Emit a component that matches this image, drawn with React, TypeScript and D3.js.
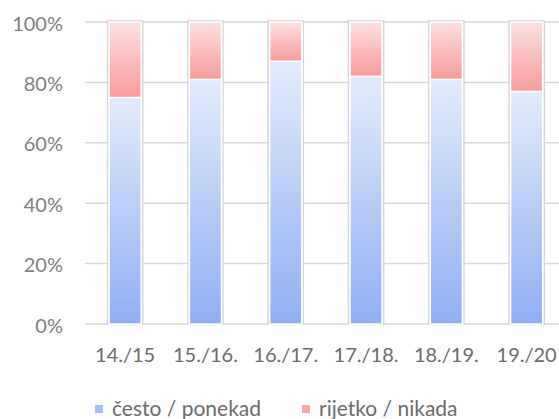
import { useEffect, useRef } from "react";
import * as d3 from "d3";

const seasons = ["14./15", "15./16.", "16./17.", "17./18.", "18./19.", "19./20"];
const often = [75, 81, 87, 82, 81, 77];
const rarely = [25, 19, 13, 18, 19, 23];
const yTicks = [0, 20, 40, 60, 80, 100];
const legendLabels = ["često / ponekad", "rijetko / nikada"];

export default function App() {
  const svgRef = useRef<SVGSVGElement>(null);

  useEffect(() => {
    if (!svgRef.current) return;
    const width = 559;
    const height = 419;
    const left = 85;
    const top = 22;
    const bottom = 324;
    const band = 80.3;
    const font = "Lato, 'Open Sans', sans-serif";

    const svg = d3.select(svgRef.current);
    svg.selectAll("*").remove();

    const defs = svg.append("defs");
    const grads = [
      { id: "gBlue", c0: "#e2ebfc", c1: "#8eb0f2" },
      { id: "gRed", c0: "#fde0e0", c1: "#f99b9b" },
    ];
    grads.forEach((g) => {
      const lg = defs
        .append("linearGradient")
        .attr("id", g.id)
        .attr("x1", 0)
        .attr("y1", 0)
        .attr("x2", 0)
        .attr("y2", 1);
      lg.append("stop").attr("offset", "0%").attr("stop-color", g.c0);
      lg.append("stop").attr("offset", "100%").attr("stop-color", g.c1);
    });

    const x = d3
      .scaleBand()
      .domain(seasons)
      .range([left, left + band * seasons.length])
      .paddingInner(0.6)
      .paddingOuter(0.3);

    const y = d3.scaleLinear().domain([0, 100]).range([bottom, top]);

    // gridlines
    svg
      .append("g")
      .selectAll("line")
      .data(yTicks)
      .join("line")
      .attr("x1", left)
      .attr("x2", width)
      .attr("y1", (d) => y(d))
      .attr("y2", (d) => y(d))
      .attr("stroke", "#d9d9d9")
      .attr("stroke-width", 1.5);

    // y labels
    svg
      .append("g")
      .selectAll("text")
      .data(yTicks)
      .join("text")
      .attr("x", 63)
      .attr("y", (d) => y(d) + 1.5)
      .attr("dy", "0.35em")
      .attr("text-anchor", "end")
      .attr("fill", "#808080")
      .attr("font-size", 20)
      .attr("font-family", font)
      .text((d) => `${d}%`);

    const stacks = [
      { vals: often, base: often.map(() => 0), fill: "url(#gBlue)" },
      { vals: rarely, base: often, fill: "url(#gRed)" },
    ];

    const bw = x.bandwidth();
    // shadow outline behind full bars
    svg
      .append("g")
      .selectAll("rect")
      .data(seasons)
      .join("rect")
      .attr("x", (d) => (x(d) as number) - 1.5)
      .attr("y", y(100) - 1)
      .attr("width", bw + 3)
      .attr("height", y(0) - y(100) + 1)
      .attr("fill", "none")
      .attr("stroke", "#d6d6d6")
      .attr("stroke-width", 1.5);

    stacks.forEach((s) => {
      svg
        .append("g")
        .selectAll("rect")
        .data(seasons)
        .join("rect")
        .attr("x", (d) => x(d) as number)
        .attr("y", (_d, i) => y(s.base[i] + s.vals[i]))
        .attr("width", bw)
        .attr("height", (_d, i) => y(s.base[i]) - y(s.base[i] + s.vals[i]))
        .attr("fill", s.fill)
        .attr("stroke", "#ffffff")
        .attr("stroke-width", 1.5);
    });

    // x labels
    svg
      .append("g")
      .selectAll("text")
      .data(seasons)
      .join("text")
      .attr("x", (d) => (x(d) as number) + bw / 2)
      .attr("y", 355)
      .attr("dy", "0.35em")
      .attr("text-anchor", "middle")
      .attr("fill", "#6b6b6b")
      .attr("font-size", 20)
      .attr("font-family", font)
      .text((d) => d);

    // legend
    const legendX = [95, 302];
    const legendFill = ["#a8c2f5", "#f9a8a8"];
    legendLabels.forEach((label, i) => {
      const g = svg.append("g").attr("transform", `translate(${legendX[i]},409)`);
      g.append("rect")
        .attr("x", 0)
        .attr("y", -4)
        .attr("width", 8)
        .attr("height", 8)
        .attr("fill", legendFill[i]);
      g.append("text")
        .attr("x", 17)
        .attr("y", 0)
        .attr("dy", "0.35em")
        .attr("fill", "#6b6b6b")
        .attr("font-size", 21)
        .attr("font-family", font)
        .text(label);
    });

    svg.attr("width", width).attr("height", height);
  }, []);

  return (
    <svg
      ref={svgRef}
      width={559}
      height={419}
      style={{ position: "absolute", left: 0, top: 0, background: "#ffffff" }}
    ></svg>
  );
}
